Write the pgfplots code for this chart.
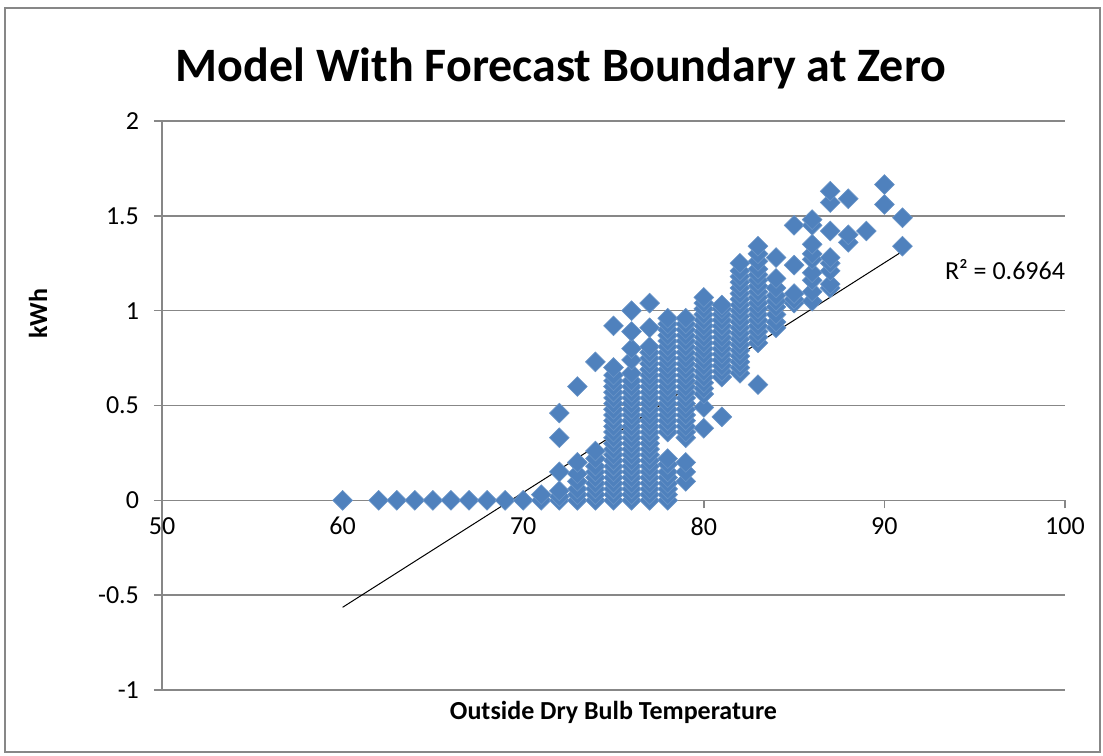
\documentclass[border=0pt]{standalone}
\usepackage{fontspec}
\setmainfont{Carlito}
\usepackage{pgfplots}
\pgfplotsset{compat=1.18}
\definecolor{excelblue}{HTML}{4F81BD}
\definecolor{gridgray}{HTML}{878787}

\begin{document}
\begin{tikzpicture}
\useasboundingbox (-81pt,-32.5pt) rectangle (470.5pt,345pt);
\draw[gridgray, line width=1pt] (-78.5pt,-31pt) rectangle (469pt,341pt);
\begin{axis}[
    at={(0pt,0pt)}, anchor=south west,
    width=451.5pt, height=284.5pt, scale only axis,
    xmin=50, xmax=100, ymin=-1, ymax=2,
    xtick={50,60,70,80,90,100},
    ytick={-1,-0.5,0,0.5,1,1.5,2},
    axis x line=middle, axis y line=left,
    axis line style={gridgray, line width=0.75pt, -},
    hide obscured x ticks=false, hide obscured y ticks=false,
    ymajorgrids=true,
    grid style={gridgray, line width=0.75pt},
    tick style={gridgray, line width=0.75pt},
    tick align=outside, major tick length=4pt,
    ticklabel style={font=\fontsize{13}{15}\selectfont},
    /pgf/number format/assume math mode=true,
    yticklabel style={xshift=-4pt},
    xticklabel style={yshift=-1pt},
]
\addplot[only marks, mark=square*, mark size=3.5pt,
    mark options={rotate=45, fill=excelblue, draw=excelblue!85!white, line width=0.3pt}]
coordinates {
(60,0)(62,0)(63,0)(64,0)(65,0)(66,0)(67,0)(68,0)(69,0)(70,0)
(71,0)(71,0.03)
(72,0)(72,0.02)(72,0.05)(72,0.15)(72,0.33)(72,0.46)
(73,0)(73,0.03)(73,0.06)(73,0.10)(73,0.14)(73,0.20)(73,0.60)
(74,0)(74,0.03)(74,0.06)(74,0.09)(74,0.12)(74,0.15)(74,0.18)(74,0.22)(74,0.26)(74,0.73)
(75,0)(75,0.03)(75,0.06)(75,0.09)(75,0.12)(75,0.15)(75,0.18)(75,0.21)(75,0.24)(75,0.27)
(75,0.30)(75,0.33)(75,0.36)(75,0.39)(75,0.42)(75,0.45)(75,0.48)(75,0.51)(75,0.54)(75,0.57)
(75,0.60)(75,0.63)(75,0.66)(75,0.70)(75,0.92)
(76,0)(76,0.03)(76,0.06)(76,0.09)(76,0.12)(76,0.15)(76,0.18)(76,0.21)(76,0.24)(76,0.27)
(76,0.30)(76,0.33)(76,0.36)(76,0.39)(76,0.42)(76,0.45)(76,0.48)(76,0.51)(76,0.54)(76,0.57)
(76,0.60)(76,0.63)(76,0.67)(76,0.74)(76,0.80)(76,0.89)(76,1.00)
(77,0)(77,0.03)(77,0.06)(77,0.09)(77,0.12)(77,0.15)(77,0.18)(77,0.21)(77,0.24)(77,0.27)
(77,0.30)(77,0.33)(77,0.36)(77,0.39)(77,0.42)(77,0.45)(77,0.48)(77,0.51)(77,0.54)(77,0.57)
(77,0.60)(77,0.63)(77,0.66)(77,0.69)(77,0.72)(77,0.75)(77,0.78)(77,0.81)(77,0.91)(77,1.04)
(78,0)(78,0.03)(78,0.06)(78,0.09)(78,0.12)(78,0.15)(78,0.19)(78,0.22)
(78,0.36)(78,0.39)(78,0.42)(78,0.45)(78,0.48)(78,0.51)(78,0.54)(78,0.57)(78,0.60)(78,0.63)
(78,0.66)(78,0.69)(78,0.72)(78,0.75)(78,0.78)(78,0.81)(78,0.84)(78,0.87)(78,0.90)(78,0.93)(78,0.96)
(79,0.10)(79,0.15)(79,0.20)
(79,0.33)(79,0.36)(79,0.39)(79,0.42)(79,0.45)(79,0.48)(79,0.51)(79,0.54)(79,0.57)(79,0.60)
(79,0.63)(79,0.66)(79,0.69)(79,0.72)(79,0.75)(79,0.78)(79,0.81)(79,0.84)(79,0.87)(79,0.90)(79,0.93)(79,0.96)
(80,0.38)(80,0.49)
(80,0.56)(80,0.59)(80,0.62)(80,0.65)(80,0.68)(80,0.71)(80,0.74)(80,0.77)(80,0.80)(80,0.83)
(80,0.86)(80,0.89)(80,0.92)(80,0.95)(80,0.98)(80,1.01)(80,1.04)(80,1.07)
(81,0.44)
(81,0.65)(81,0.68)(81,0.71)(81,0.74)(81,0.77)(81,0.80)(81,0.83)(81,0.86)(81,0.89)(81,0.92)
(81,0.95)(81,0.98)(81,1.01)(81,1.03)
(82,0.67)(82,0.70)(82,0.73)(82,0.76)(82,0.79)(82,0.82)(82,0.85)(82,0.88)(82,0.91)(82,0.94)
(82,0.97)(82,1.00)(82,1.03)(82,1.06)(82,1.09)(82,1.12)(82,1.15)(82,1.18)(82,1.21)(82,1.25)
(83,0.61)
(83,0.83)(83,0.86)(83,0.89)(83,0.92)(83,0.95)(83,0.98)(83,1.01)(83,1.04)(83,1.07)(83,1.10)
(83,1.13)(83,1.16)(83,1.19)(83,1.22)(83,1.26)(83,1.30)(83,1.34)
(84,0.91)(84,0.94)(84,0.98)(84,1.02)(84,1.05)(84,1.08)(84,1.12)(84,1.17)(84,1.28)
(85,1.04)(85,1.06)(85,1.09)(85,1.24)(85,1.45)
(86,1.05)(86,1.10)(86,1.16)(86,1.20)(86,1.27)(86,1.30)(86,1.35)(86,1.45)(86,1.48)
(87,1.12)(87,1.14)(87,1.21)(87,1.25)(87,1.28)(87,1.42)(87,1.57)(87,1.63)
(88,1.36)(88,1.40)(88,1.59)
(89,1.42)
(90,1.56)(90,1.665)
(91,1.34)(91,1.49)
};
\addplot[black, line width=0.5pt, no marks] coordinates {(60,-0.564)(91,1.313)};
\end{axis}
\node[anchor=base, font=\bfseries\fontsize{24}{28}\selectfont] at (199.5pt,304pt) {Model With Forecast Boundary at Zero};
\node[anchor=base, font=\bfseries\fontsize{13}{15}\selectfont] at (225.75pt,-15pt) {Outside Dry Bulb Temperature};
\node[rotate=90, font=\bfseries\fontsize{13}{15}\selectfont] at (-62pt,188pt) {kWh};
\node[font=\fontsize{13}{15}\selectfont] at (421.5pt,210pt) {R² = 0.6964};
\end{tikzpicture}
\end{document}
